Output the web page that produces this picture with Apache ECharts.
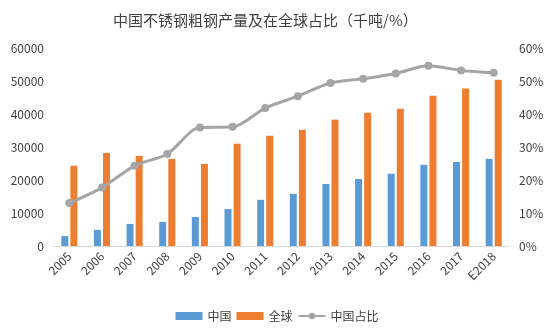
<!DOCTYPE html>
<html><head><meta charset="utf-8">
<script src="https://cdn.jsdelivr.net/npm/echarts@6/dist/echarts.min.js"></script>
<style>html,body{margin:0;padding:0;background:#fff}#c{width:554px;height:335px}</style>
</head><body><div id="c"></div>
<script>
var categories = ['2005','2006','2007','2008','2009','2010','2011','2012','2013','2014','2015','2016','2017','E2018'];
var chinaOutput = [3000,4900,6700,7300,8800,11200,14000,15800,18800,20300,21900,24600,25500,26400];
var globalOutput = [24300,28200,27300,26400,24900,31000,33400,35200,38300,40400,41600,45500,47700,50400];
var chinaShare = [13.0,17.7,24.3,27.9,35.9,36.1,41.8,45.4,49.4,50.7,52.3,54.6,53.2,52.5];

var font = '"Noto Sans CJK SC", "Noto Sans", sans-serif';
var chart = echarts.init(document.getElementById('c'), null, {renderer:'canvas'});
chart.setOption({
  animation:false,
  textStyle:{fontFamily:font},
  title:{text:'中国不锈钢粗钢产量及在全球占比（千吨/%）', left:108, top:8,
    textStyle:{fontSize:15, fontWeight:'normal', color:'#404040', fontFamily:font}},
  grid:{left:53, right:44, top:48, bottom:89},
  legend:{bottom:8, left:'center', itemWidth:27, itemHeight:8, itemGap:5,
    textStyle:{fontSize:12, color:'#404040'},
    data:[{name:'中国', icon:'rect'},{name:'全球', icon:'rect'},{name:'中国占比'}]},
  xAxis:{type:'category', data:categories,
    axisLine:{lineStyle:{color:'#D9D9D9'}}, axisTick:{show:false},
    axisLabel:{rotate:45, fontSize:12, color:'#404040', margin:8, interval:0}},
  yAxis:[
    {type:'value', min:0, max:60000, interval:10000, splitLine:{show:false},
     axisLabel:{fontSize:12, color:'#404040', margin:9, formatter:function(v){return String(v);}}},
    {type:'value', min:0, max:60, interval:10, splitLine:{show:false},
     axisLabel:{fontSize:12, color:'#404040', margin:9, formatter:'{value}%'}}
  ],
  series:[
    {name:'中国', type:'bar', data:chinaOutput, barWidth:7, barGap:'30%', itemStyle:{color:'#5B9BD5'}},
    {name:'全球', type:'bar', data:globalOutput, barWidth:7, barGap:'30%', itemStyle:{color:'#ED7D31'}},
    {name:'中国占比', type:'line', yAxisIndex:1, data:chinaShare, smooth:0.3,
     symbol:'circle', symbolSize:8, lineStyle:{color:'#A5A5A5', width:3},
     itemStyle:{color:'#A5A5A5'}}
  ]
});
</script></body></html>
